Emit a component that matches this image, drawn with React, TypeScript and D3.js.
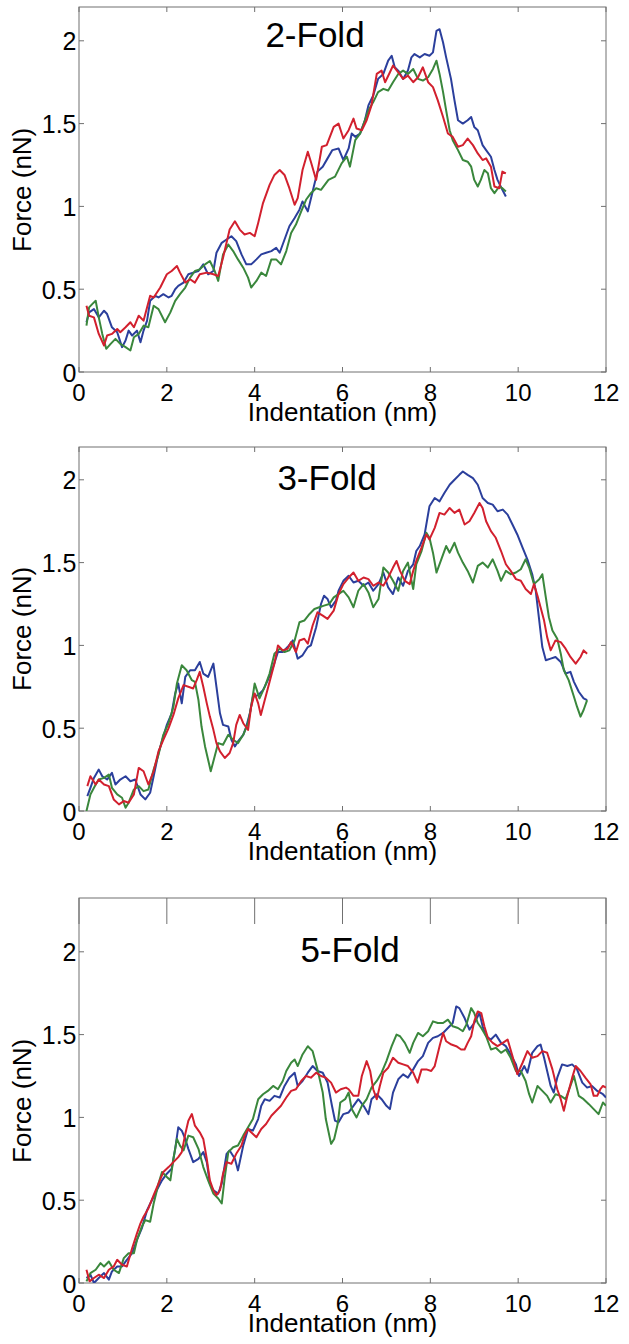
import React, { useEffect, useRef } from "react";
import * as d3 from "d3";

type Pt = [number, number];

// indentation (nm), force (nN)
const fold2Blue: Pt[] = [[0.17,0.30],[0.23,0.36],[0.34,0.38],[0.45,0.33],[0.57,0.37],[0.64,0.35],[0.75,0.27],[0.87,0.24],[0.98,0.15],[1.06,0.19],[1.13,0.25],[1.21,0.22],[1.32,0.25],[1.40,0.18],[1.47,0.25],[1.55,0.31],[1.62,0.43],[1.74,0.46],[1.81,0.45],[1.92,0.47],[2.04,0.45],[2.11,0.46],[2.19,0.50],[2.26,0.52],[2.38,0.54],[2.49,0.59],[2.60,0.60],[2.72,0.61],[2.83,0.65],[2.94,0.59],[3.06,0.61],[3.13,0.72],[3.25,0.78],[3.36,0.80],[3.47,0.82],[3.58,0.79],[3.70,0.71],[3.81,0.65],[3.92,0.65],[4.04,0.68],[4.15,0.71],[4.26,0.72],[4.38,0.73],[4.49,0.75],[4.57,0.72],[4.68,0.80],[4.79,0.88],[4.91,0.93],[5.02,0.98],[5.09,1.03],[5.21,0.97],[5.32,1.09],[5.43,1.21],[5.55,1.24],[5.66,1.29],[5.77,1.34],[5.91,1.35],[6.02,1.28],[6.14,1.35],[6.21,1.44],[6.29,1.42],[6.40,1.44],[6.51,1.52],[6.59,1.61],[6.70,1.67],[6.81,1.77],[6.93,1.80],[7.04,1.88],[7.12,1.91],[7.19,1.84],[7.27,1.82],[7.38,1.77],[7.49,1.82],[7.57,1.90],[7.64,1.92],[7.76,1.90],[7.87,1.92],[7.98,1.91],[8.06,1.93],[8.14,2.06],[8.21,2.07],[8.29,1.99],[8.36,1.90],[8.47,1.77],[8.55,1.64],[8.63,1.52],[8.74,1.50],[8.85,1.52],[8.93,1.54],[9.0,1.48],[9.08,1.46],[9.19,1.37],[9.27,1.34],[9.38,1.30],[9.46,1.22],[9.53,1.16],[9.64,1.10],[9.72,1.06]];
const fold2Green: Pt[] = [[0.17,0.28],[0.23,0.39],[0.30,0.41],[0.38,0.43],[0.45,0.33],[0.53,0.23],[0.62,0.14],[0.72,0.17],[0.83,0.20],[0.94,0.17],[1.06,0.15],[1.17,0.13],[1.25,0.21],[1.36,0.23],[1.47,0.28],[1.58,0.27],[1.70,0.40],[1.81,0.38],[1.96,0.30],[2.08,0.36],[2.19,0.43],[2.30,0.47],[2.42,0.51],[2.53,0.57],[2.64,0.61],[2.75,0.62],[2.87,0.65],[2.98,0.67],[3.09,0.61],[3.17,0.55],[3.28,0.71],[3.40,0.77],[3.51,0.73],[3.62,0.68],[3.74,0.63],[3.85,0.57],[3.92,0.51],[4.04,0.55],[4.15,0.60],[4.26,0.58],[4.38,0.68],[4.49,0.68],[4.60,0.65],[4.72,0.73],[4.83,0.84],[4.94,0.89],[5.06,0.97],[5.17,1.04],[5.28,1.08],[5.40,1.11],[5.51,1.10],[5.68,1.16],[5.83,1.18],[5.98,1.26],[6.10,1.30],[6.17,1.24],[6.29,1.40],[6.40,1.44],[6.47,1.49],[6.59,1.58],[6.70,1.63],[6.81,1.69],[6.93,1.71],[7.04,1.70],[7.15,1.75],[7.27,1.80],[7.38,1.82],[7.49,1.80],[7.61,1.83],[7.72,1.77],[7.83,1.76],[7.95,1.78],[8.06,1.83],[8.14,1.88],[8.21,1.80],[8.29,1.69],[8.36,1.58],[8.44,1.46],[8.51,1.40],[8.63,1.34],[8.74,1.28],[8.85,1.27],[8.93,1.24],[9.0,1.16],[9.08,1.12],[9.15,1.16],[9.23,1.22],[9.31,1.20],[9.38,1.11],[9.46,1.08],[9.57,1.12],[9.64,1.11],[9.72,1.09]];
const fold2Red: Pt[] = [[0.17,0.40],[0.23,0.34],[0.34,0.33],[0.45,0.23],[0.57,0.16],[0.64,0.22],[0.75,0.23],[0.87,0.26],[0.94,0.24],[1.06,0.27],[1.17,0.30],[1.25,0.27],[1.36,0.34],[1.47,0.31],[1.62,0.46],[1.70,0.45],[1.85,0.51],[2.0,0.59],[2.11,0.61],[2.23,0.64],[2.30,0.60],[2.42,0.54],[2.53,0.56],[2.64,0.54],[2.75,0.59],[2.91,0.60],[3.06,0.59],[3.17,0.58],[3.28,0.69],[3.43,0.86],[3.55,0.91],[3.66,0.86],[3.77,0.83],[3.89,0.84],[4.0,0.82],[4.08,0.90],[4.19,1.02],[4.34,1.13],[4.45,1.19],[4.57,1.22],[4.68,1.19],[4.79,1.11],[4.91,1.01],[4.98,1.05],[5.09,1.22],[5.21,1.33],[5.28,1.27],[5.40,1.16],[5.53,1.36],[5.64,1.37],[5.80,1.48],[5.91,1.50],[6.02,1.41],[6.14,1.46],[6.25,1.53],[6.32,1.47],[6.44,1.46],[6.55,1.52],[6.66,1.61],[6.78,1.80],[6.89,1.82],[6.97,1.75],[7.08,1.81],[7.15,1.85],[7.27,1.81],[7.38,1.77],[7.49,1.79],[7.61,1.75],[7.72,1.78],[7.83,1.84],[7.95,1.75],[8.06,1.72],[8.17,1.64],[8.29,1.54],[8.4,1.44],[8.51,1.42],[8.63,1.36],[8.74,1.37],[8.85,1.41],[8.97,1.37],[9.08,1.32],[9.19,1.28],[9.27,1.29],[9.38,1.24],[9.46,1.12],[9.57,1.11],[9.64,1.21],[9.72,1.20]];

const fold3Blue: Pt[] = [[0.19,0.09],[0.26,0.14],[0.34,0.20],[0.45,0.25],[0.53,0.21],[0.64,0.19],[0.75,0.23],[0.83,0.16],[0.94,0.19],[1.06,0.21],[1.17,0.18],[1.28,0.19],[1.40,0.10],[1.51,0.07],[1.62,0.11],[1.70,0.21],[1.81,0.35],[1.92,0.45],[2.0,0.52],[2.11,0.59],[2.19,0.71],[2.26,0.77],[2.34,0.65],[2.42,0.81],[2.53,0.85],[2.64,0.85],[2.75,0.90],[2.83,0.83],[2.94,0.81],[3.06,0.89],[3.13,0.75],[3.21,0.59],[3.28,0.52],[3.40,0.51],[3.47,0.43],[3.55,0.39],[3.62,0.42],[3.74,0.46],[3.81,0.51],[3.89,0.59],[3.96,0.69],[4.08,0.70],[4.19,0.73],[4.30,0.79],[4.42,0.87],[4.53,0.96],[4.64,0.96],[4.75,0.99],[4.87,1.03],[4.98,0.92],[5.09,0.94],[5.21,0.99],[5.28,1.0],[5.40,1.11],[5.51,1.25],[5.58,1.30],[5.66,1.28],[5.74,1.23],[5.85,1.27],[5.91,1.33],[6.02,1.39],[6.14,1.42],[6.25,1.38],[6.36,1.39],[6.48,1.36],[6.59,1.38],[6.70,1.33],[6.82,1.37],[6.93,1.44],[7.04,1.35],[7.15,1.31],[7.27,1.41],[7.38,1.36],[7.49,1.45],[7.61,1.49],[7.68,1.57],[7.76,1.60],[7.87,1.67],[7.98,1.84],[8.10,1.89],[8.21,1.87],[8.32,1.92],[8.44,1.97],[8.55,2.0],[8.66,2.03],[8.74,2.05],[8.85,2.03],[8.97,2.01],[9.08,1.97],[9.19,1.89],[9.31,1.86],[9.42,1.85],[9.53,1.81],[9.65,1.82],[9.76,1.79],[9.87,1.73],[9.98,1.67],[10.10,1.59],[10.21,1.52],[10.32,1.43],[10.40,1.33],[10.48,1.15],[10.55,0.99],[10.63,0.91],[10.74,0.92],[10.85,0.93],[10.97,0.90],[11.08,0.83],[11.19,0.84],[11.27,0.78],[11.38,0.72],[11.49,0.68],[11.57,0.67]];
const fold3Green: Pt[] = [[0.17,0.0],[0.26,0.10],[0.38,0.16],[0.45,0.19],[0.57,0.20],[0.68,0.22],[0.75,0.14],[0.87,0.10],[0.98,0.08],[1.06,0.02],[1.13,0.05],[1.25,0.13],[1.36,0.15],[1.47,0.12],[1.58,0.13],[1.70,0.25],[1.81,0.34],[1.92,0.46],[2.04,0.53],[2.15,0.63],[2.23,0.77],[2.34,0.88],[2.45,0.85],[2.57,0.79],[2.64,0.78],[2.72,0.67],[2.79,0.51],[2.87,0.39],[2.94,0.31],[3.0,0.24],[3.09,0.33],[3.17,0.41],[3.28,0.40],[3.40,0.46],[3.51,0.43],[3.62,0.41],[3.74,0.46],[3.85,0.53],[3.92,0.63],[4.0,0.77],[4.11,0.68],[4.23,0.75],[4.34,0.83],[4.45,0.95],[4.57,0.98],[4.68,0.96],[4.79,0.97],[4.91,1.03],[5.02,1.14],[5.13,1.15],[5.25,1.19],[5.36,1.22],[5.47,1.23],[5.58,1.24],[5.70,1.25],[5.80,1.29],[5.91,1.31],[6.02,1.33],[6.14,1.29],[6.25,1.23],[6.36,1.33],[6.48,1.37],[6.59,1.32],[6.70,1.23],[6.82,1.28],[6.93,1.47],[7.04,1.44],[7.15,1.39],[7.27,1.33],[7.38,1.45],[7.49,1.50],[7.61,1.34],[7.68,1.49],[7.80,1.57],[7.91,1.68],[7.98,1.65],[8.06,1.56],[8.14,1.44],[8.25,1.52],[8.36,1.60],[8.44,1.56],[8.55,1.62],[8.63,1.56],[8.74,1.50],[8.85,1.45],[8.97,1.38],[9.08,1.48],[9.19,1.50],[9.31,1.47],[9.42,1.52],[9.53,1.45],[9.61,1.39],[9.72,1.45],[9.83,1.43],[9.95,1.44],[10.06,1.46],[10.17,1.52],[10.25,1.47],[10.36,1.37],[10.48,1.40],[10.55,1.43],[10.63,1.29],[10.70,1.17],[10.78,1.09],[10.89,1.04],[10.97,0.95],[11.04,0.85],[11.15,0.79],[11.27,0.69],[11.34,0.63],[11.42,0.57],[11.49,0.61],[11.57,0.67]];
const fold3Red: Pt[] = [[0.19,0.15],[0.26,0.21],[0.38,0.16],[0.45,0.19],[0.57,0.16],[0.68,0.15],[0.79,0.07],[0.91,0.04],[1.02,0.06],[1.13,0.05],[1.25,0.10],[1.36,0.26],[1.47,0.24],[1.58,0.16],[1.70,0.24],[1.81,0.36],[1.92,0.43],[2.04,0.50],[2.15,0.58],[2.26,0.68],[2.38,0.76],[2.49,0.75],[2.60,0.74],[2.68,0.79],[2.75,0.84],[2.83,0.75],[2.91,0.65],[2.98,0.57],[3.06,0.49],[3.13,0.41],[3.21,0.36],[3.32,0.32],[3.43,0.35],[3.51,0.41],[3.58,0.52],[3.66,0.58],[3.74,0.53],[3.85,0.49],[3.92,0.63],[4.0,0.71],[4.08,0.65],[4.14,0.58],[4.23,0.67],[4.34,0.78],[4.45,0.89],[4.53,1.0],[4.64,0.97],[4.75,0.98],[4.83,1.02],[4.94,0.96],[5.02,1.03],[5.13,1.04],[5.21,1.01],[5.32,1.12],[5.43,1.20],[5.55,1.18],[5.66,1.16],[5.80,1.21],[5.91,1.31],[6.02,1.37],[6.14,1.41],[6.25,1.44],[6.36,1.39],[6.48,1.41],[6.59,1.40],[6.70,1.36],[6.82,1.38],[6.93,1.36],[7.04,1.41],[7.15,1.47],[7.23,1.51],[7.31,1.45],[7.42,1.39],[7.53,1.37],[7.61,1.45],[7.68,1.51],[7.80,1.59],[7.91,1.67],[7.98,1.64],[8.10,1.71],[8.21,1.80],[8.32,1.79],[8.44,1.83],[8.55,1.80],[8.66,1.82],[8.78,1.73],[8.89,1.75],[9.0,1.80],[9.12,1.86],[9.19,1.83],[9.27,1.75],[9.38,1.69],[9.49,1.65],[9.61,1.57],[9.72,1.49],[9.83,1.45],[9.95,1.40],[10.06,1.39],[10.17,1.34],[10.29,1.31],[10.36,1.37],[10.44,1.30],[10.51,1.23],[10.59,1.15],[10.66,1.05],[10.74,0.97],[10.85,1.03],[10.97,1.02],[11.08,0.98],[11.19,0.93],[11.31,0.89],[11.42,0.93],[11.49,0.97],[11.57,0.95]];

const fold5Blue: Pt[] = [[0.17,0.03],[0.26,0.05],[0.34,0.0],[0.45,0.03],[0.57,0.06],[0.68,0.02],[0.75,0.07],[0.87,0.10],[0.98,0.10],[1.09,0.14],[1.21,0.18],[1.32,0.26],[1.43,0.33],[1.55,0.44],[1.66,0.50],[1.77,0.56],[1.89,0.62],[2.0,0.66],[2.11,0.69],[2.19,0.81],[2.26,0.94],[2.34,0.92],[2.42,0.87],[2.49,0.81],[2.60,0.73],[2.72,0.75],[2.83,0.79],[2.91,0.73],[2.98,0.60],[3.06,0.56],[3.17,0.54],[3.25,0.60],[3.36,0.78],[3.43,0.80],[3.55,0.75],[3.62,0.68],[3.74,0.83],[3.85,0.93],[3.96,0.92],[4.08,0.99],[4.15,1.07],[4.23,1.11],[4.34,1.10],[4.45,1.13],[4.57,1.12],[4.68,1.19],[4.79,1.24],[4.91,1.27],[4.98,1.19],[5.09,1.22],[5.21,1.27],[5.32,1.31],[5.43,1.28],[5.55,1.27],[5.66,1.21],[5.76,1.07],[5.83,0.98],[5.91,0.97],[6.02,1.02],[6.14,1.03],[6.25,1.07],[6.36,1.11],[6.48,1.07],[6.59,1.02],[6.66,1.11],[6.78,1.14],[6.89,1.11],[7.0,1.07],[7.08,1.05],[7.15,1.15],[7.27,1.23],[7.38,1.26],[7.49,1.24],[7.61,1.29],[7.72,1.34],[7.83,1.37],[7.95,1.45],[8.06,1.48],[8.17,1.49],[8.29,1.51],[8.40,1.54],[8.51,1.57],[8.59,1.67],[8.66,1.66],[8.78,1.60],[8.89,1.53],[9.0,1.57],[9.12,1.63],[9.19,1.55],[9.27,1.49],[9.38,1.47],[9.49,1.50],[9.61,1.45],[9.72,1.43],[9.83,1.38],[9.95,1.32],[10.02,1.25],[10.14,1.31],[10.21,1.27],[10.32,1.39],[10.44,1.43],[10.51,1.44],[10.59,1.36],[10.66,1.28],[10.74,1.19],[10.81,1.15],[10.89,1.24],[11.0,1.32],[11.12,1.31],[11.23,1.32],[11.34,1.29],[11.46,1.21],[11.57,1.18],[11.68,1.19],[11.80,1.16],[11.93,1.14],[12.0,1.12]];
const fold5Green: Pt[] = [[0.17,0.01],[0.26,0.06],[0.38,0.08],[0.49,0.12],[0.57,0.10],[0.68,0.13],[0.79,0.08],[0.91,0.06],[1.02,0.15],[1.13,0.18],[1.25,0.18],[1.32,0.26],[1.43,0.34],[1.51,0.38],[1.62,0.37],[1.70,0.48],[1.81,0.60],[1.89,0.67],[2.0,0.64],[2.08,0.62],[2.15,0.75],[2.23,0.87],[2.30,0.83],[2.38,0.80],[2.49,0.89],[2.60,0.88],[2.72,0.81],[2.83,0.70],[2.94,0.62],[3.06,0.54],[3.17,0.51],[3.25,0.48],[3.32,0.64],[3.40,0.79],[3.51,0.82],[3.62,0.83],[3.74,0.89],[3.85,0.94],[3.96,0.99],[4.08,1.11],[4.19,1.14],[4.30,1.16],[4.42,1.19],[4.53,1.17],[4.64,1.22],[4.72,1.28],[4.83,1.33],[4.91,1.35],[4.98,1.31],[5.09,1.38],[5.21,1.43],[5.32,1.40],[5.43,1.29],[5.55,1.15],[5.62,0.99],[5.74,0.84],[5.81,0.87],[5.89,0.96],[5.95,1.09],[6.06,1.11],[6.14,1.15],[6.21,1.05],[6.32,1.0],[6.44,1.07],[6.55,1.11],[6.66,1.18],[6.78,1.22],[6.89,1.27],[7.0,1.34],[7.12,1.43],[7.23,1.50],[7.31,1.49],[7.42,1.45],[7.53,1.39],[7.61,1.45],[7.72,1.51],[7.83,1.49],[7.95,1.52],[8.06,1.58],[8.17,1.57],[8.29,1.57],[8.40,1.59],[8.51,1.55],[8.63,1.54],[8.74,1.52],[8.82,1.56],[8.93,1.66],[9.0,1.63],[9.08,1.57],[9.16,1.54],[9.27,1.49],[9.38,1.41],[9.49,1.42],[9.61,1.39],[9.72,1.41],[9.83,1.36],[9.95,1.28],[10.06,1.28],[10.17,1.22],[10.25,1.14],[10.32,1.09],[10.44,1.19],[10.55,1.16],[10.66,1.13],[10.74,1.09],[10.85,1.14],[10.97,1.13],[11.08,1.11],[11.19,1.19],[11.27,1.25],[11.38,1.13],[11.49,1.11],[11.61,1.08],[11.72,1.05],[11.83,1.02],[11.93,1.09],[12.0,1.07]];
const fold5Red: Pt[] = [[0.17,0.08],[0.24,0.01],[0.34,0.03],[0.45,0.05],[0.57,0.03],[0.68,0.08],[0.79,0.10],[0.87,0.14],[0.98,0.11],[1.09,0.10],[1.21,0.21],[1.32,0.30],[1.40,0.36],[1.47,0.40],[1.58,0.45],[1.70,0.53],[1.81,0.60],[1.92,0.67],[2.04,0.70],[2.15,0.73],[2.26,0.76],[2.34,0.79],[2.42,0.90],[2.49,0.98],[2.57,1.02],[2.64,0.95],[2.75,0.91],[2.83,0.87],[2.91,0.75],[2.98,0.62],[3.06,0.56],[3.13,0.53],[3.21,0.56],[3.28,0.66],[3.36,0.73],[3.47,0.72],[3.58,0.78],[3.70,0.83],[3.77,0.89],[3.85,0.93],[3.92,0.91],[4.04,0.88],[4.15,0.93],[4.26,0.96],[4.38,1.01],[4.49,1.04],[4.60,1.07],[4.72,1.12],[4.83,1.16],[4.94,1.17],[5.06,1.22],[5.17,1.25],[5.28,1.24],[5.40,1.27],[5.51,1.25],[5.62,1.24],[5.74,1.21],[5.85,1.15],[5.96,1.17],[6.08,1.18],[6.14,1.17],[6.25,1.13],[6.36,1.13],[6.44,1.25],[6.55,1.34],[6.63,1.28],[6.70,1.17],[6.78,1.11],[6.85,1.19],[6.93,1.27],[7.04,1.30],[7.15,1.36],[7.27,1.33],[7.38,1.32],[7.49,1.31],[7.61,1.27],[7.71,1.21],[7.80,1.29],[7.91,1.29],[8.02,1.28],[8.10,1.31],[8.21,1.43],[8.29,1.51],[8.36,1.46],[8.48,1.44],[8.59,1.43],[8.70,1.41],[8.78,1.41],[8.85,1.45],[8.93,1.49],[9.0,1.58],[9.08,1.64],[9.16,1.63],[9.23,1.55],[9.31,1.48],[9.42,1.45],[9.53,1.43],[9.65,1.45],[9.76,1.47],[9.87,1.37],[9.98,1.26],[10.10,1.33],[10.21,1.40],[10.32,1.36],[10.44,1.37],[10.55,1.40],[10.66,1.39],[10.78,1.29],[10.89,1.17],[10.97,1.11],[11.04,1.04],[11.12,1.13],[11.23,1.24],[11.31,1.31],[11.42,1.28],[11.53,1.24],[11.65,1.20],[11.72,1.13],[11.80,1.13],[11.87,1.17],[11.93,1.19],[12.0,1.18]];

const titles = ["2-Fold", "3-Fold", "5-Fold"];
const xTicks = [0, 2, 4, 6, 8, 10, 12];
const yTicks = [0, 0.5, 1, 1.5, 2];
const yTickLabels = ["0", "0.5", "1", "1.5", "2"];
const seriesColors = ["#2b3f9c", "#3a873c", "#d2202e"];

const W = 629;
const H = 1344;
const FONT = "'Liberation Sans', Arial, Helvetica, sans-serif";

const App: React.FC = () => {
  const ref = useRef<SVGSVGElement>(null);

  useEffect(() => {
    const svg = d3.select(ref.current);
    svg.selectAll("*").remove();

    const panels = [
      { title: titles[0], lines: [fold2Blue, fold2Green, fold2Red], bottom: 372, boxTop: 7, titleX: 315, titleY: 47, topTick: 5 },
      { title: titles[1], lines: [fold3Blue, fold3Green, fold3Red], bottom: 811, boxTop: 447, titleX: 327, titleY: 490, topTick: 5 },
      { title: titles[2], lines: [fold5Blue, fold5Green, fold5Red], bottom: 1283, boxTop: 898, titleX: 350, titleY: 962, topTick: 26 },
    ];

    const left = 79;
    const right = 606;
    const unit = 165.6;
    const axisColor = "#707070";

    const x = d3.scaleLinear().domain([0, 12]).range([left, right]);

    panels.forEach((p, i) => {
      const y = d3.scaleLinear().domain([0, 2.2]).range([p.bottom, p.bottom - 2.2 * unit]);
      const g = svg.append("g");

      const clipId = `clip-${i}`;
      g.append("clipPath").attr("id", clipId)
        .append("rect")
        .attr("x", left).attr("y", p.boxTop)
        .attr("width", right - left).attr("height", p.bottom - p.boxTop);

      // box
      g.append("rect")
        .attr("x", left).attr("y", p.boxTop)
        .attr("width", right - left).attr("height", p.bottom - p.boxTop)
        .attr("fill", "none").attr("stroke", axisColor).attr("stroke-width", 1);

      // inward ticks
      xTicks.forEach(t => {
        g.append("line").attr("x1", x(t)).attr("x2", x(t))
          .attr("y1", p.bottom).attr("y2", p.bottom - 5)
          .attr("stroke", axisColor);
        g.append("line").attr("x1", x(t)).attr("x2", x(t))
          .attr("y1", p.boxTop).attr("y2", p.boxTop + p.topTick)
          .attr("stroke", axisColor);
      });
      yTicks.forEach(t => {
        g.append("line").attr("x1", left).attr("x2", left + 5)
          .attr("y1", y(t)).attr("y2", y(t)).attr("stroke", axisColor);
        g.append("line").attr("x1", right).attr("x2", right - 5)
          .attr("y1", y(t)).attr("y2", y(t)).attr("stroke", axisColor);
      });

      // tick labels
      g.selectAll(".xl").data(xTicks).enter().append("text")
        .attr("x", d => x(d)).attr("y", p.bottom + 28.5)
        .attr("text-anchor", "middle")
        .attr("font-family", FONT).attr("font-size", 24)
        .text(d => String(d));
      g.selectAll(".yl").data(yTicks).enter().append("text")
        .attr("x", left - 2.5).attr("y", d => y(d) + 9.5)
        .attr("text-anchor", "end")
        .attr("font-family", FONT).attr("font-size", 25)
        .text((_, k) => yTickLabels[k]);

      // axis titles
      g.append("text")
        .attr("x", (left + right) / 2).attr("y", p.bottom + 49)
        .attr("text-anchor", "middle")
        .attr("font-family", FONT).attr("font-size", 26)
        .text("Indentation (nm)");
      const midY = (p.bottom + y(2.2)) / 2;
      g.append("text")
        .attr("transform", `translate(31,${midY}) rotate(-90)`)
        .attr("text-anchor", "middle")
        .attr("font-family", FONT).attr("font-size", 26)
        .text("Force (nN)");

      // panel title
      g.append("text")
        .attr("x", p.titleX).attr("y", p.titleY)
        .attr("text-anchor", "middle")
        .attr("font-family", FONT).attr("font-size", 35)
        .text(p.title);

      const line = d3.line<Pt>().x(d => x(d[0])).y(d => y(d[1])).curve(d3.curveLinear);
      const lg = g.append("g").attr("clip-path", `url(#${clipId})`);
      p.lines.forEach((pts, k) => {
        lg.append("path")
          .attr("d", line(pts))
          .attr("fill", "none")
          .attr("stroke", seriesColors[k])
          .attr("stroke-width", 2)
          .attr("stroke-linejoin", "round");
      });
    });
  }, []);

  return (
    <svg
      ref={ref}
      width={W}
      height={H}
      style={{ position: "absolute", left: 0, top: 0, background: "#fff", display: "block" }}
    />
  );
};

export default App;
